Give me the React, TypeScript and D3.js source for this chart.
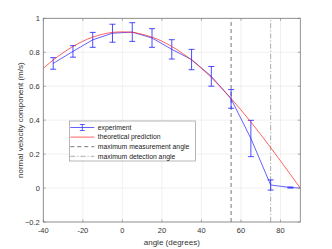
import React from 'react';
import * as d3 from 'd3';

// experiment (angle in degrees, velocity, error half-width)
const expAngles = [-35, -25, -15, -5, 5, 15, 25, 35, 45, 55, 65, 75, 85, 90];
const expValues = [0.734, 0.805, 0.873, 0.912, 0.919, 0.884, 0.817, 0.757, 0.658, 0.525, 0.292, 0.018, 0.003, 0];
const expErrors = [0.034, 0.034, 0.044, 0.053, 0.055, 0.055, 0.057, 0.06, 0.058, 0.055, 0.107, 0.03, 0.003, 0];

// theoretical prediction
const theoAngles = [-40, -35, -30, -25, -20, -15, -10, -5, 0, 5, 10, 15, 20, 25, 30, 35, 40, 45, 50, 55, 60, 65, 70, 75, 80, 85, 90];
const theoValues = [0.705, 0.754, 0.797, 0.834, 0.865, 0.889, 0.906, 0.917, 0.92, 0.917, 0.906, 0.889, 0.865, 0.834, 0.797, 0.754, 0.705, 0.651, 0.591, 0.528, 0.46, 0.389, 0.315, 0.238, 0.16, 0.08, 0];

const maxMeasurementAngle = 55;
const maxDetectionAngle = 75;

const xTicks = [-40, -20, 0, 20, 40, 60, 80];
const yTicks = [-0.2, 0, 0.2, 0.4, 0.6, 0.8, 1];

const legendLabels = ['experiment', 'theoretical prediction', 'maximum measurement angle', 'maximum detection angle'];

const W = 332;
const H = 249;
const margin = { top: 18.3, right: 31.7, bottom: 27, left: 43.3 };
const font = 'Liberation Sans, Arial, sans-serif';

const App = () => {
  const x = d3.scaleLinear().domain([-40, 90]).range([margin.left, W - margin.right]);
  const y = d3.scaleLinear().domain([-0.2, 1]).range([H - margin.bottom, margin.top]);
  const [x0, x1] = x.range();
  const [y0, y1] = y.range();

  const expLine = d3.line<number>()
    .x((_, i) => x(expAngles[i]))
    .y(d => y(d));
  const theoLine = d3.line<number>()
    .x((_, i) => x(theoAngles[i]))
    .y(d => y(d))
    .curve(d3.curveMonotoneX);

  const tick = 2.5;
  const legX = 69.3, legY = 121, legW = 126, legH = 40;
  const rowY = (i: number) => legY + 6.5 + i * 9.6;

  return (
    <svg width={W} height={H} style={{ position: 'absolute', left: 0, top: 0, background: '#fff' }}>
      <rect x={x0} y={y1} width={x1 - x0} height={y0 - y1} fill="#fff" />
      {/* grid */}
      {xTicks.map(t => (
        <line key={'gx' + t} x1={x(t)} x2={x(t)} y1={y0} y2={y1} stroke="#e6e6e6" strokeWidth={0.6} />
      ))}
      {yTicks.map(t => (
        <line key={'gy' + t} x1={x0} x2={x1} y1={y(t)} y2={y(t)} stroke="#e6e6e6" strokeWidth={0.6} />
      ))}

      {/* reference angles */}
      <line x1={x(maxMeasurementAngle)} x2={x(maxMeasurementAngle)} y1={y0} y2={y1}
        stroke="#555" strokeWidth={0.8} strokeDasharray="4,3" />
      <line x1={x(maxDetectionAngle)} x2={x(maxDetectionAngle)} y1={y0} y2={y1}
        stroke="#aaa" strokeWidth={1} strokeDasharray="5,2,1.2,2" />

      {/* experiment */}
      <path d={expLine(expValues) || ''} fill="none" stroke="#2020ff" strokeWidth={0.7} />
      {expAngles.map((a, i) => {
        const e = expErrors[i];
        if (e <= 0) return null;
        const cx = x(a);
        const top = y(expValues[i] + e);
        const bot = y(expValues[i] - e);
        return (
          <g key={'eb' + a} stroke="#2020ff" strokeWidth={0.8}>
            <line x1={cx} x2={cx} y1={top} y2={bot} />
            <line x1={cx - 3} x2={cx + 3} y1={top} y2={top} />
            <line x1={cx - 3} x2={cx + 3} y1={bot} y2={bot} />
          </g>
        );
      })}

      {/* theory */}
      <path d={theoLine(theoValues) || ''} fill="none" stroke="#ff2020" strokeWidth={0.7} />

      {/* box + ticks */}
      <rect x={x0} y={y1} width={x1 - x0} height={y0 - y1} fill="none" stroke="#7a7a7a" strokeWidth={0.8} />
      {xTicks.map(t => (
        <g key={'tx' + t} stroke="#7a7a7a" strokeWidth={0.6}>
          <line x1={x(t)} x2={x(t)} y1={y0} y2={y0 - tick} />
          <line x1={x(t)} x2={x(t)} y1={y1} y2={y1 + tick} />
        </g>
      ))}
      {yTicks.map(t => (
        <g key={'ty' + t} stroke="#7a7a7a" strokeWidth={0.6}>
          <line x1={x0} x2={x0 + tick} y1={y(t)} y2={y(t)} />
          <line x1={x1} x2={x1 - tick} y1={y(t)} y2={y(t)} />
        </g>
      ))}
      {xTicks.map(t => (
        <text key={'lx' + t} x={x(t)} y={y0 + 10.5} textAnchor="middle" fontFamily={font} fontSize={7.5} fill="#333">
          {t}
        </text>
      ))}
      {yTicks.map(t => (
        <text key={'ly' + t} x={x0 - 3.5} y={y(t) + 2.6} textAnchor="end" fontFamily={font} fontSize={7.5} fill="#333">
          {d3.format('~g')(+t.toFixed(1))}
        </text>
      ))}

      {/* axis titles */}
      <text x={(x0 + x1) / 2} y={245} textAnchor="middle" fontFamily={font} fontSize={8} fill="#333">
        angle (degrees)
      </text>
      <text transform={`translate(23,${(y0 + y1) / 2}) rotate(-90)`} textAnchor="middle" fontFamily={font} fontSize={8} fill="#333">
        normal velocity component (m/s)
      </text>

      {/* legend */}
      <rect x={legX} y={legY} width={legW} height={legH} fill="#fff" stroke="#888" strokeWidth={0.6} />
      {legendLabels.map((label, i) => {
        const ly = rowY(i);
        return (
          <g key={label}>
            {i === 0 && (
              <g stroke="#2020ff" strokeWidth={0.7}>
                <line x1={legX + 1} x2={legX + 25} y1={ly} y2={ly} />
                <line x1={legX + 13} x2={legX + 13} y1={ly - 3} y2={ly + 3} />
                <line x1={legX + 10.5} x2={legX + 15.5} y1={ly - 3} y2={ly - 3} />
                <line x1={legX + 10.5} x2={legX + 15.5} y1={ly + 3} y2={ly + 3} />
              </g>
            )}
            {i === 1 && <line x1={legX + 1} x2={legX + 25} y1={ly} y2={ly} stroke="#ff2020" strokeWidth={0.7} />}
            {i === 2 && <line x1={legX + 1} x2={legX + 25} y1={ly} y2={ly} stroke="#555" strokeWidth={0.8} strokeDasharray="4,3" />}
            {i === 3 && <line x1={legX + 1} x2={legX + 25} y1={ly} y2={ly} stroke="#aaa" strokeWidth={1} strokeDasharray="5,2,1.2,2" />}
            <text x={legX + 28.5} y={ly + 2.3} fontFamily={font} fontSize={6.8} fill="#222">
              {label}
            </text>
          </g>
        );
      })}
    </svg>
  );
};

export default App;
